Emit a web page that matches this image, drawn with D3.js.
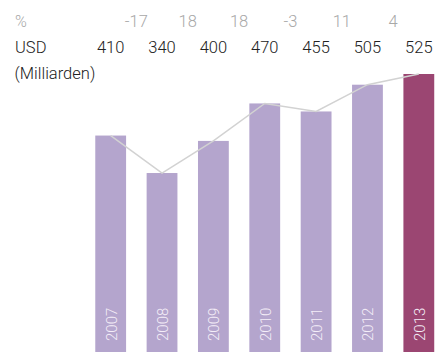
<!DOCTYPE html>
<html><head><meta charset="utf-8">
<script src="https://cdn.jsdelivr.net/npm/d3@7"></script>
<style>html,body{margin:0;padding:0;background:#fff;}svg{display:block;}</style>
</head><body>
<svg id="c" width="444" height="352"></svg>
<script>
const years = ["2007","2008","2009","2010","2011","2012","2013"];
const values = [410, 340, 400, 470, 455, 505, 525];
const pctChange = ["-17","18","18","-3","11","4"];
const pctLabel = "%";
const unitLabel = "USD";
const unitSub = "(Milliarden)";

const svg = d3.select("#c");
const font = "Roboto, 'Liberation Sans', sans-serif";

const x = d3.scaleBand().domain(years).range([85, 444.5]).paddingInner(0.4).paddingOuter(0.2);
const y = d3.scaleLinear().domain([0, 525]).range([355, 74]);

// bars
svg.selectAll("rect.bar").data(years).join("rect")
  .attr("class","bar")
  .attr("x", d => x(d))
  .attr("width", x.bandwidth())
  .attr("y", (d,i) => y(values[i]))
  .attr("height", (d,i) => y(0) - y(values[i]))
  .attr("fill", (d,i) => i === years.length-1 ? "#9b4672" : "#b4a5cd");

// line
const line = d3.line().x((d,i) => x(years[i]) + x.bandwidth()/2).y(d => y(d));
svg.append("path").datum(values).attr("d", line)
  .attr("fill","none").attr("stroke","#d2d2d2").attr("stroke-width",1.5);

// year labels
svg.selectAll("text.yr").data(years).join("text")
  .attr("class","yr")
  .attr("transform", d => `translate(${x(d)+x.bandwidth()/2+6},341) rotate(-90)`)
  .attr("fill","#f4eef8").attr("font-family",font).attr("font-weight",300)
  .attr("font-size",15).text(d => d);

// header
svg.append("text").attr("x",15).attr("y",27).text(pctLabel)
  .attr("fill","#a8a8a8").attr("font-family",font).attr("font-weight",300).attr("font-size",16);
svg.append("text").attr("x",15).attr("y",53).text(unitLabel)
  .attr("fill","#222").attr("font-family",font).attr("font-weight",300).attr("font-size",16.5);
svg.append("text").attr("x",14.5).attr("y",79).text(unitSub)
  .attr("fill","#222").attr("font-family",font).attr("font-weight",300).attr("font-size",16.5);

svg.selectAll("text.val").data(values).join("text")
  .attr("class","val")
  .attr("x",(d,i) => x(years[i]) + x.bandwidth()/2).attr("y",53)
  .attr("text-anchor","middle").attr("fill","#222")
  .attr("font-family",font).attr("font-weight",300).attr("font-size",16.5)
  .text(d => d);

svg.selectAll("text.pct").data(pctChange).join("text")
  .attr("class","pct")
  .attr("x",(d,i) => (x(years[i]) + x(years[i+1]))/2 + x.bandwidth()/2).attr("y",27)
  .attr("text-anchor","middle").attr("fill","#a8a8a8")
  .attr("font-family",font).attr("font-weight",300).attr("font-size",16.5)
  .text(d => d);
</script>
</body></html>
